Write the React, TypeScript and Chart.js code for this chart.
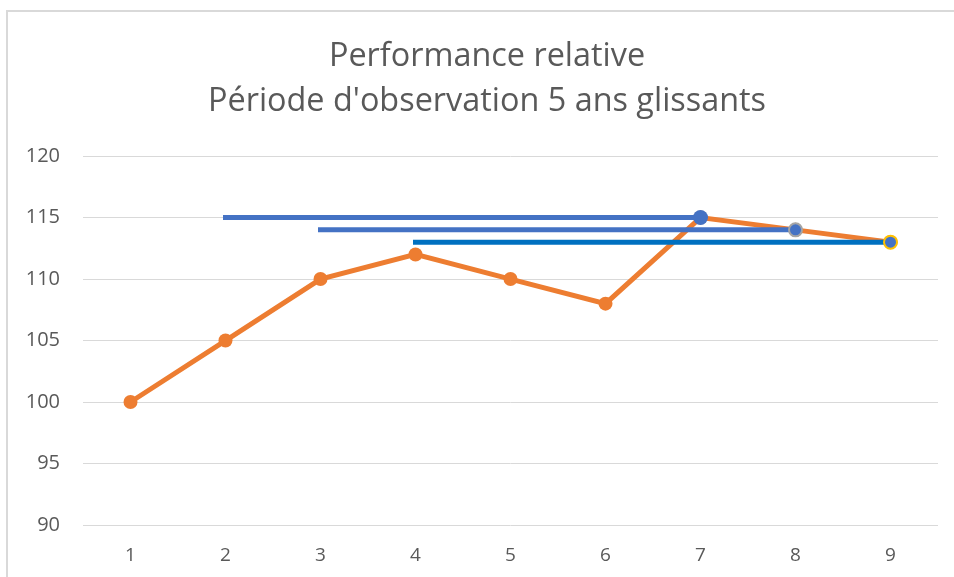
import React, { useEffect, useRef } from "react";
import { Chart, registerables } from "chart.js";

Chart.register(...registerables);

const categories = ["1", "2", "3", "4", "5", "6", "7", "8", "9"];
const performance = [100, 105, 110, 112, 110, 108, 115, 114, 113];
const window1 = [null, 115, 115, 115, 115, 115, 115, null, null];
const window2 = [null, null, 114, 114, 114, 114, 114, 114, null];
const window3 = [null, null, null, 113, 113, 113, 113, 113, 113];
const titleLines = ["Performance relative", "Période d'observation 5 ans glissants"];
const yMin = 90;
const yMax = 120;
const yStep = 5;

export default function App() {
  const canvasRef = useRef<HTMLCanvasElement | null>(null);

  useEffect(() => {
    const canvas = canvasRef.current;
    if (!canvas) return;
    const endMarker = (idx: number, r: number) => (ctx: any) => (ctx.dataIndex === idx ? r : 0);
    const chart = new Chart(canvas, {
      type: "line",
      data: {
        labels: categories,
        datasets: [
          {
            label: "Fenêtre 1",
            data: window1,
            borderColor: "#4472C4",
            backgroundColor: "#4472C4",
            borderWidth: 5,
            borderCapStyle: "square",
            pointRadius: endMarker(6, 7.5),
            pointBorderWidth: 0,
            pointBackgroundColor: "#4472C4",
            order: 1,
          },
          {
            label: "Fenêtre 2",
            data: window2,
            borderColor: "#4472C4",
            backgroundColor: "#4472C4",
            borderWidth: 5,
            borderCapStyle: "square",
            pointRadius: endMarker(7, 6.5),
            pointBorderWidth: 2,
            pointBorderColor: "#A5A5A5",
            pointBackgroundColor: "#4472C4",
            order: 2,
          },
          {
            label: "Fenêtre 3",
            data: window3,
            borderColor: "#0070C0",
            backgroundColor: "#4472C4",
            borderWidth: 5,
            borderCapStyle: "square",
            pointRadius: endMarker(8, 6.5),
            pointBorderWidth: 2,
            pointBorderColor: "#FFC000",
            pointBackgroundColor: "#4472C4",
            order: 3,
          },
          {
            label: "Performance",
            data: performance,
            borderColor: "#ED7D31",
            backgroundColor: "#ED7D31",
            borderWidth: 5,
            pointRadius: 7,
            pointBorderWidth: 0,
            pointBackgroundColor: "#ED7D31",
            order: 4,
          },
        ],
      },
      options: {
        animation: false,
        responsive: false,
        maintainAspectRatio: false,
        spanGaps: false,
        layout: { padding: { left: 0, right: 0, top: 0, bottom: 0 } },
        plugins: {
          legend: { display: false },
          tooltip: { enabled: false },
          title: {
            display: true,
            text: titleLines,
            color: "#595959",
            font: { family: "Open Sans", size: 32.4, weight: "normal", lineHeight: 1.39 },
            padding: { top: 34, bottom: 32 },
          },
        },
        scales: {
          x: {
            offset: true,
            grid: { display: false, drawTicks: false },
            border: { display: false },
            ticks: {
              color: "#595959",
              font: { family: "Open Sans", size: 19 },
              padding: 19,
            },
            afterFit: (axis: any) => {
              axis.height = 52;
            },
          },
          y: {
            min: yMin,
            max: yMax,
            grid: { color: "#D9D9D9", lineWidth: 1, drawTicks: false },
            border: { display: false },
            ticks: {
              stepSize: yStep,
              color: "#595959",
              font: { family: "Open Sans", size: 20 },
              padding: 23,
            },
            afterFit: (axis: any) => {
              axis.width = 83;
            },
          },
          yRight: {
            position: "right",
            min: yMin,
            max: yMax,
            grid: { display: false, drawTicks: false },
            border: { display: false },
            ticks: { display: false },
            afterFit: (axis: any) => {
              axis.width = 36;
            },
          },
        },
      },
    });
    return () => chart.destroy();
  }, []);

  return (
    <div style={{ position: "fixed", left: 0, top: 0, width: 954, height: 577, background: "#fff", overflow: "hidden" }}>
      <div
        style={{
          position: "absolute",
          left: 6,
          top: 10,
          width: 1000,
          height: 700,
          borderLeft: "2px solid #D9D9D9",
          borderTop: "2px solid #D9D9D9",
        }}
      />
      <canvas ref={canvasRef} width={974} height={577} style={{ position: "absolute", left: 0, top: 0 }} />
    </div>
  );
}
